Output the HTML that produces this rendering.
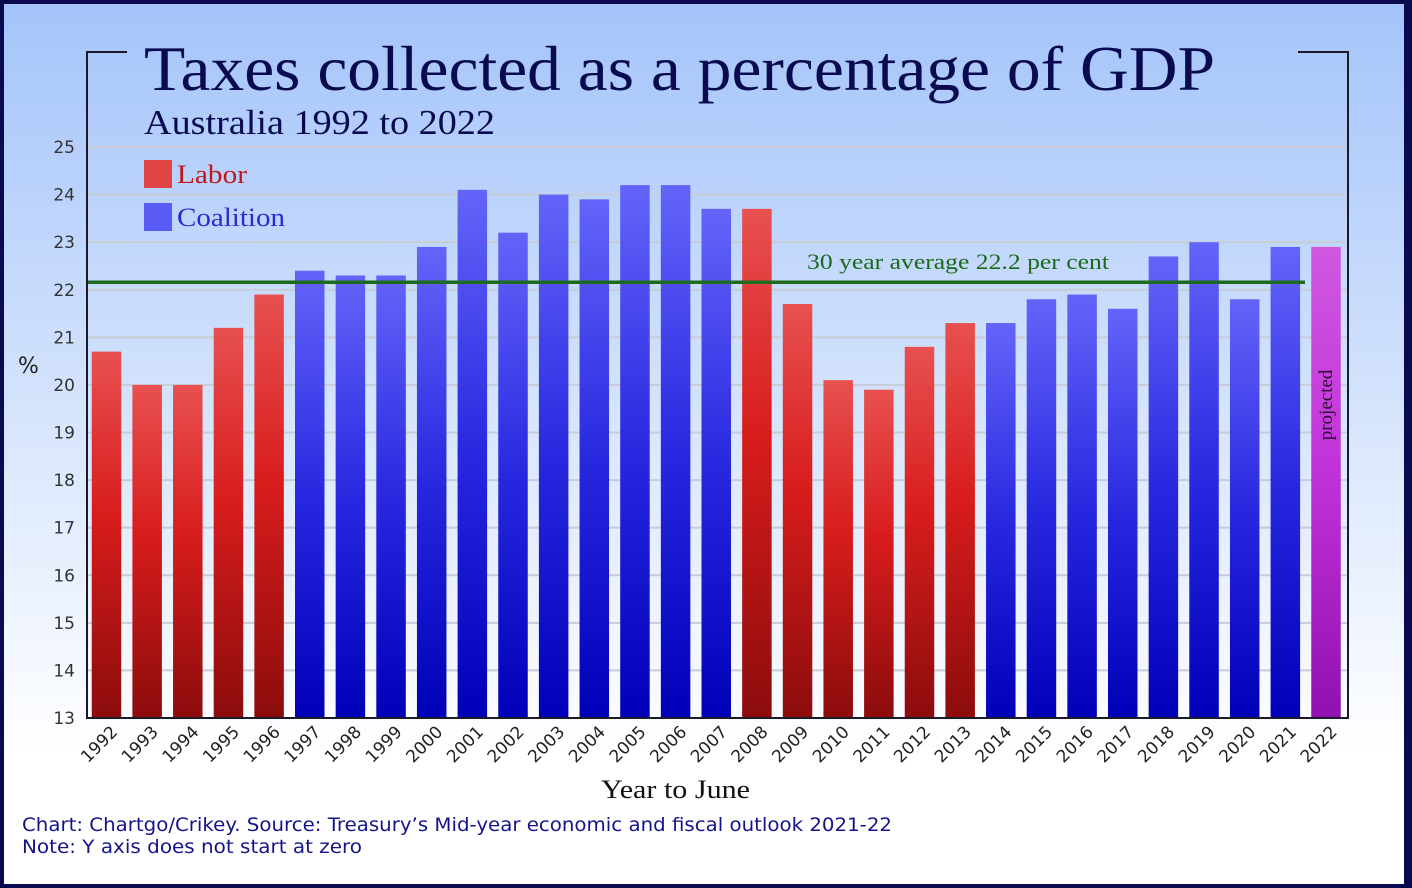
<!DOCTYPE html>
<html><head><meta charset="utf-8"><style>
html,body{margin:0;padding:0;width:1412px;height:888px;overflow:hidden}
svg{display:block}
</style></head><body>
<svg id="chart" width="1412" height="888" xmlns="http://www.w3.org/2000/svg">
<defs>
<linearGradient id="bg" x1="0" y1="0" x2="0" y2="1">
<stop offset="0" stop-color="#a4c4fa"/><stop offset="0.85" stop-color="#ffffff"/><stop offset="1" stop-color="#ffffff"/>
</linearGradient>
<linearGradient id="gL" x1="0" y1="0" x2="0" y2="1"><stop offset="0" stop-color="#e85050"/><stop offset="0.45" stop-color="#d81c1c"/><stop offset="1" stop-color="#8c0c0c"/></linearGradient>
<linearGradient id="gC" x1="0" y1="0" x2="0" y2="1"><stop offset="0" stop-color="#6464fa"/><stop offset="0.5" stop-color="#2828e0"/><stop offset="1" stop-color="#0000b8"/></linearGradient>
<linearGradient id="gP" x1="0" y1="0" x2="0" y2="1"><stop offset="0" stop-color="#d058e0"/><stop offset="0.5" stop-color="#c030d8"/><stop offset="1" stop-color="#9010b0"/></linearGradient>
</defs>
<rect x="0" y="0" width="1412" height="888" fill="#0a0a50"/>
<rect x="4" y="4" width="1400" height="880" fill="url(#bg)"/>
<g id="grid"></g>
<g id="bars"></g>
<g id="yticks" font-family="'DejaVu Sans','Liberation Sans',sans-serif" font-size="17" fill="#333"></g>
<g id="xticks" font-family="'DejaVu Sans','Liberation Sans',sans-serif" font-size="17" fill="#222"></g>
<path d="M127,52 H87 V718 H1348 V52 H1298" fill="none" stroke="#1a1a2a" stroke-width="2"/>
<line id="avg" x1="88" x2="1305" stroke="#1e6a1e" stroke-width="3.5"/>
<text x="807" y="269" textLength="302" lengthAdjust="spacingAndGlyphs" font-family="'Liberation Serif',serif" font-size="22" fill="#1a6a1a">30 year average 22.2 per cent</text>
<text x="144" y="90" textLength="1071" lengthAdjust="spacingAndGlyphs" font-family="'Liberation Serif',serif" font-size="64" fill="#0a0a50">Taxes collected as a percentage of GDP</text>
<text x="144" y="134" textLength="351" lengthAdjust="spacingAndGlyphs" font-family="'Liberation Serif',serif" font-size="35" fill="#0a0a50">Australia 1992 to 2022</text>
<rect x="144" y="160" width="28" height="28" fill="#e04444"/>
<text x="177" y="183" textLength="70" lengthAdjust="spacingAndGlyphs" font-family="'Liberation Serif',serif" font-size="26" fill="#c01818">Labor</text>
<rect x="144" y="203" width="28" height="28" fill="#5a5af4"/>
<text x="177" y="226" textLength="108" lengthAdjust="spacingAndGlyphs" font-family="'Liberation Serif',serif" font-size="26" fill="#2a2ad0">Coalition</text>
<text x="18" y="373" font-family="'DejaVu Sans',sans-serif" font-size="22" fill="#222">%</text>
<text x="601" y="798" textLength="149" lengthAdjust="spacingAndGlyphs" font-family="'Liberation Serif',serif" font-size="26" fill="#111">Year to June</text>
<text x="22" y="831" textLength="870" lengthAdjust="spacingAndGlyphs" font-family="'DejaVu Sans',sans-serif" font-size="19" fill="#14148a">Chart: Chartgo/Crikey. Source: Treasury’s Mid-year economic and fiscal outlook 2021-22</text>
<text x="22" y="853" textLength="340" lengthAdjust="spacingAndGlyphs" font-family="'DejaVu Sans',sans-serif" font-size="19" fill="#14148a">Note: Y axis does not start at zero</text>
<text id="proj" font-family="'Liberation Serif',serif" font-size="19" fill="#2a0a30" text-anchor="middle">projected</text>
<rect x="1404" y="0" width="8" height="888" fill="#0a0a50"/>
</svg>
<script>
const years=[1992,1993,1994,1995,1996,1997,1998,1999,2000,2001,2002,2003,2004,2005,2006,2007,2008,2009,2010,2011,2012,2013,2014,2015,2016,2017,2018,2019,2020,2021,2022];
const values=[20.7,20.0,20.0,21.2,21.9,22.4,22.3,22.3,22.9,24.1,23.2,24.0,23.9,24.2,24.2,23.7,23.7,21.7,20.1,19.9,20.8,21.3,21.3,21.8,21.9,21.6,22.7,23.0,21.8,22.9,22.9];
const parties=["L","L","L","L","L","C","C","C","C","C","C","C","C","C","C","C","L","L","L","L","L","L","C","C","C","C","C","C","C","C","P"];
const yTicks=[13,14,15,16,17,18,19,20,21,22,23,24,25];
const average=22.2;
const NS="http://www.w3.org/2000/svg";
const y=v=>718-(v-13)*(718-147)/12;
const xc=i=>106.5+i*40.65;
const bw=29.5;
const fills={L:"url(#gL)",C:"url(#gC)",P:"url(#gP)"};
const grid=document.getElementById('grid'),bars=document.getElementById('bars'),yt=document.getElementById('yticks'),xt=document.getElementById('xticks');
function mk(t,a){const e=document.createElementNS(NS,t);for(const k in a)e.setAttribute(k,a[k]);return e;}
yTicks.forEach(v=>{
  const l=mk('line',{x1:88,x2:1348,y1:y(v),y2:y(v),stroke:'#c8ccd4','stroke-width':2});
  
  
  grid.appendChild(l);
  const t=mk('text',{x:75,y:y(v)+6,'text-anchor':'end'});t.textContent=v;
  
  
  yt.appendChild(t);
});
years.forEach((yr,i)=>{
  const r=mk('rect',{x:xc(i)-bw/2,y:y(values[i]),width:bw,height:718-y(values[i]),fill:fills[parties[i]]});
  
  
  bars.appendChild(r);
  const t=mk('text',{transform:`translate(${xc(i)+12},${733}) rotate(-45)`,'text-anchor':'end'});t.textContent=yr;
  
  
  xt.appendChild(t);
});
const av=document.getElementById('avg');av.setAttribute('y1',y(average)+2);av.setAttribute('y2',y(average)+2);
const pi=years.length-1;
document.getElementById('proj').setAttribute('transform',`translate(${xc(pi)+6},${y(values[pi])+158}) rotate(-90)`);
</script>
</body></html>
